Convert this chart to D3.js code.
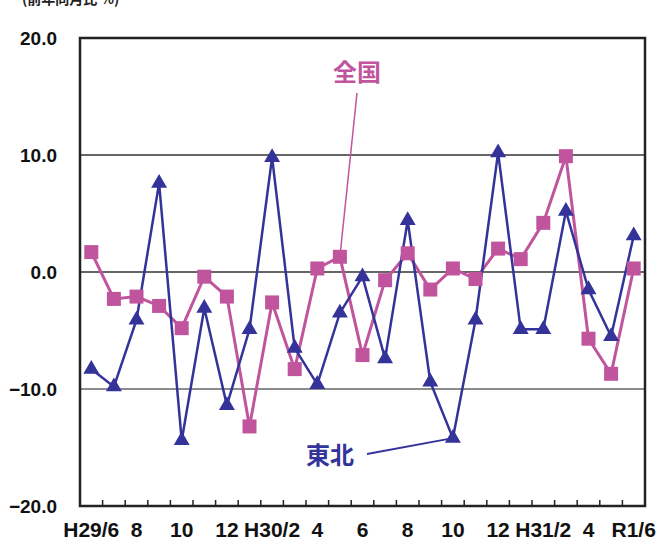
<!DOCTYPE html>
<html>
<head>
<meta charset="utf-8">
<script src="https://cdn.jsdelivr.net/npm/d3@7"></script>
<style>
  body { margin: 0; background: #fff; }
  svg text { font-family: "Liberation Sans", Arial, sans-serif; font-weight: bold; }
  .xlab { font-family: "Liberation Sans Narrow", "Arial Narrow", "Liberation Sans", sans-serif; }
  .jp { font-family: "Noto Sans CJK JP", sans-serif; font-weight: bold; }
</style>
</head>
<body>
<div id="chart"></div>
<script>
// months H29/6 .. R1/6
var months = ["H29/6", "7", "8", "9", "10", "11", "12",
  "H30/1", "2", "3", "4", "5", "6", "7", "8", "9", "10", "11", "12",
  "H31/1", "2", "3", "4", "R1/5", "6"];

// labels shown under the axis (every 2nd month)
var tickLabels = ["H29/6", "8", "10", "12", "H30/2", "4", "6", "8", "10", "12", "H31/2", "4", "R1/6"];

// 全国 (nationwide), % change vs same month previous year
var zenkoku = [1.7, -2.3, -2.1, -2.9, -4.8, -0.4, -2.1, -13.2, -2.6, -8.3, 0.3, 1.3,
  -7.1, -0.7, 1.6, -1.5, 0.3, -0.6, 2.0, 1.1, 4.2, 9.9, -5.7, -8.7, 0.3];

// 東北 (Tohoku)
var tohoku = [-8.3, -9.8, -4.1, 7.6, -14.4, -3.1, -11.4, -4.9, 9.8, -6.5, -9.6, -3.5,
  -0.4, -7.4, 4.4, -9.4, -14.2, -4.1, 10.2, -4.9, -4.9, 5.2, -1.5, -5.5, 3.1];

var yTicks = [20, 10, 0, -10, -20];

var width = 659;
var height = 541;
var leftMargin = 80;
var rightEdge = 645;
var topMargin = 38;
var bottomEdge = 506;

var pink = "#c0559e";
var blue = "#333399";

var svg = d3.select("#chart")
  .append("svg")
  .attr("width", width)
  .attr("height", height);

// scales
var x = d3.scaleBand()
  .domain(d3.range(months.length))
  .range([leftMargin, rightEdge]);
var y = d3.scaleLinear()
  .domain([-20, 20])
  .range([bottomEdge, topMargin]);

function cx(i) { return x(i) + x.bandwidth() / 2; }

// unit label, cut by the top edge like the original
svg.append("text")
  .attr("class", "jp")
  .attr("x", 22)
  .attr("y", 4)
  .style("font-size", "14px")
  .attr("fill", "#222")
  .text("(前年同月比 %)");

// gridlines
svg.append("g")
  .selectAll("line")
  .data([10, 0, -10])
  .enter()
  .append("line")
  .attr("x1", leftMargin)
  .attr("x2", rightEdge)
  .attr("y1", function(d) { return y(d); })
  .attr("y2", function(d) { return y(d); })
  .attr("stroke", function(d) { return d == -10 ? "#666" : "#333"; })
  .attr("stroke-width", 1.5);

// y axis labels
var yAxis = d3.axisLeft(y)
  .tickValues(yTicks)
  .tickSize(0)
  .tickPadding(0)
  .tickFormat(d3.format(".1f"));
var yg = svg.append("g")
  .attr("transform", "translate(57,0)")
  .call(yAxis);
yg.select(".domain").remove();
yg.selectAll("text")
  .style("font-size", "19px")
  .style("font-weight", "bold")
  .attr("fill", "#111")
  .text(function(d) { return d < 0 ? "\u2212" + d3.format(".1f")(-d) : d3.format(".1f")(d); });

// small ticks on the bottom, between months
var tickPos = d3.range(1, months.length);
svg.append("g")
  .selectAll("line")
  .data(tickPos)
  .enter()
  .append("line")
  .attr("x1", function(d) { return x(d); })
  .attr("x2", function(d) { return x(d); })
  .attr("y1", bottomEdge)
  .attr("y2", bottomEdge - 6)
  .attr("stroke", "#222")
  .attr("stroke-width", 1.5);

// x labels
var labelIdx = d3.range(0, months.length, 2);
svg.append("g")
  .selectAll("text")
  .data(labelIdx)
  .enter()
  .append("text")
  .attr("class", "xlab")
  .attr("x", function(d) { return cx(d); })
  .attr("y", 537)
  .attr("text-anchor", "middle")
  .style("font-size", "21px")
  .attr("fill", "#111")
  .text(function(d, i) { return tickLabels[i]; });

// plot frame
svg.append("rect")
  .attr("x", leftMargin)
  .attr("y", topMargin)
  .attr("width", rightEdge - leftMargin)
  .attr("height", bottomEdge - topMargin)
  .attr("fill", "none")
  .attr("stroke", "#222")
  .attr("stroke-width", 2.5);

var line = d3.line()
  .x(function(d, i) { return cx(i); })
  .y(function(d) { return y(d); });

// leader lines for the series labels
svg.append("line")
  .attr("x1", 357).attr("y1", 93)
  .attr("x2", cx(11)).attr("y2", y(zenkoku[11]))
  .attr("stroke", pink).attr("stroke-width", 1.5);
svg.append("line")
  .attr("x1", 367).attr("y1", 454)
  .attr("x2", cx(16)).attr("y2", y(tohoku[16]))
  .attr("stroke", blue).attr("stroke-width", 1.8);

// 全国 line
svg.append("path")
  .datum(zenkoku)
  .attr("d", line)
  .attr("fill", "none")
  .attr("stroke", pink)
  .attr("stroke-width", 3);

// 東北 line
svg.append("path")
  .datum(tohoku)
  .attr("d", line)
  .attr("fill", "none")
  .attr("stroke", blue)
  .attr("stroke-width", 2.5);

// squares
svg.append("g")
  .selectAll("rect")
  .data(zenkoku)
  .enter()
  .append("rect")
  .attr("x", function(d, i) { return cx(i) - 7; })
  .attr("y", function(d) { return y(d) - 7; })
  .attr("width", 14)
  .attr("height", 14)
  .attr("fill", pink);

// triangles
var tri = d3.symbol().type(d3.symbolTriangle).size(110);
svg.append("g")
  .selectAll("path")
  .data(tohoku)
  .enter()
  .append("path")
  .attr("d", tri)
  .attr("transform", function(d, i) { return "translate(" + cx(i) + "," + y(d) + ")"; })
  .attr("fill", blue);

// series labels
svg.append("text")
  .attr("class", "jp")
  .attr("x", 357)
  .attr("y", 81)
  .attr("text-anchor", "middle")
  .style("font-size", "24px")
  .attr("fill", pink)
  .text("全国");
svg.append("text")
  .attr("class", "jp")
  .attr("x", 330)
  .attr("y", 464)
  .attr("text-anchor", "middle")
  .style("font-size", "24px")
  .attr("fill", blue)
  .text("東北");
</script>
</body>
</html>
